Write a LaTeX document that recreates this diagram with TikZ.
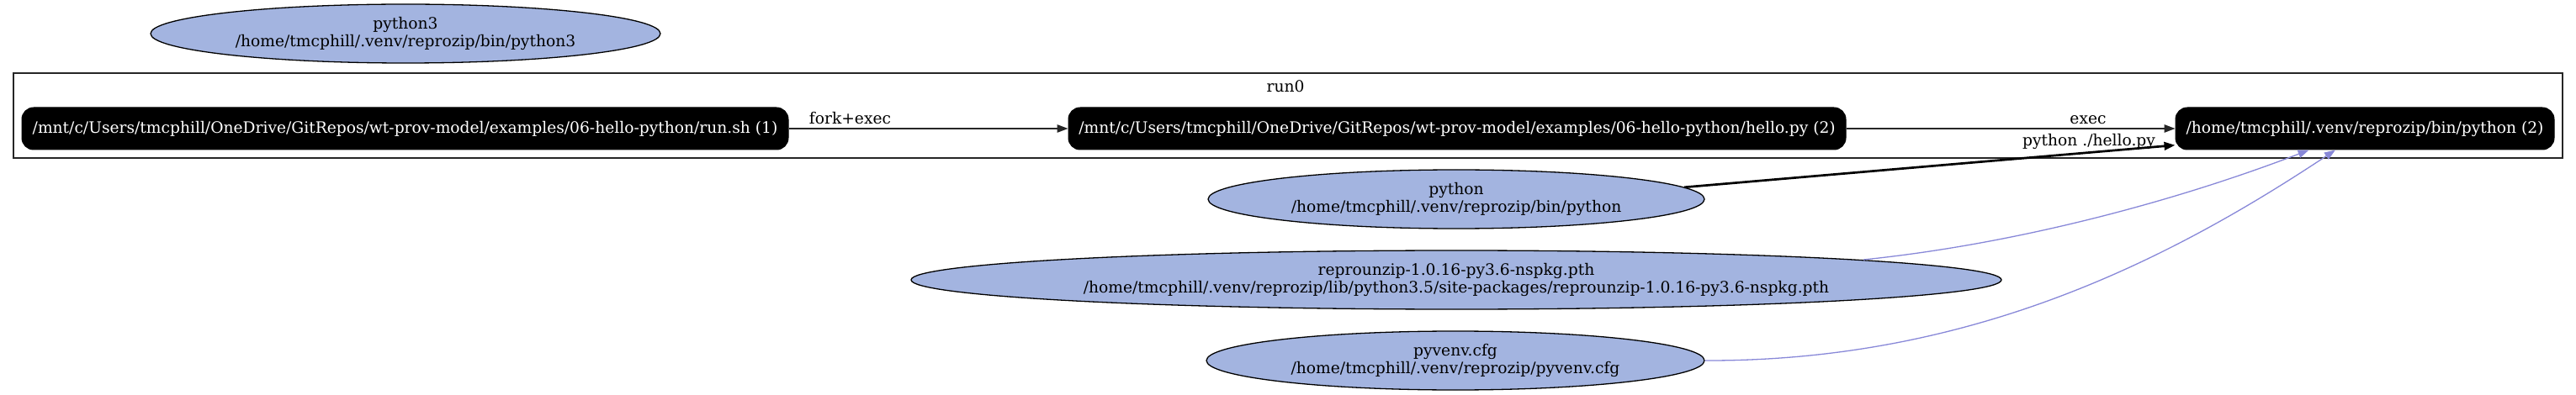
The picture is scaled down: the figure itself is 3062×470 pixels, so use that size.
\documentclass[tikz,border=0pt]{standalone}
\usepackage{fontspec}
\setmainfont{DejaVu Serif}
\usetikzlibrary{arrows.meta,shapes.geometric,calc}
\definecolor{filefill}{RGB}{163,180,224}
\definecolor{lav}{RGB}{136,136,216}
\tikzset{
  every node/.style={font=\fontsize{18.67}{21.5}\selectfont},
  procnode/.style={draw=black, fill=black, text=white, rounded corners=14pt,
    minimum height=50pt, inner sep=0pt, line width=1pt},
  filenode/.style={ellipse, draw=black, fill=filefill, text=black, align=center,
    minimum height=70pt, inner sep=0pt, line width=1.3pt},
  lbl/.style={anchor=base, inner sep=0pt},
  flow/.style={draw=black!85, line width=1.3pt, -{Triangle[length=13pt,width=9.5pt]}},
  bigflow/.style={draw=black, line width=2.7pt, -{Triangle[length=13pt,width=9.5pt]}},
  readflow/.style={draw=lav, line width=1.3pt, -{Triangle[length=13pt,width=9.5pt,fill=lav]}},
}
\begin{document}
\begin{tikzpicture}[x=1pt,y=-1pt]
\useasboundingbox (0,0) rectangle (3062,470);
% cluster
\draw[line width=1.3pt, draw=black!85] (16,87) rectangle (3046,188);
\node[lbl] (run0) at (1528,110) {run0};
% process nodes
\node[procnode, minimum width=911pt] (rs) at (481.5,153) {/mnt/c/Users/tmcphill/OneDrive/GitRepos/wt-prov-model/examples/06-hello-python/run.sh (1)};
\node[procnode, minimum width=924pt] (hp) at (1732,153) {/mnt/c/Users/tmcphill/OneDrive/GitRepos/wt-prov-model/examples/06-hello-python/hello.py (2)};
\node[procnode, minimum width=450pt] (p2) at (2811,153) {/home/tmcphill/.venv/reprozip/bin/python (2)};
% file nodes
\node[filenode, minimum width=606pt] (p3) at (482,40) {python3\\/home/tmcphill/.venv/reprozip/bin/python3};
\node[filenode, minimum width=590pt] (py) at (1731,237) {python\\/home/tmcphill/.venv/reprozip/bin/python};
\node[filenode, minimum width=1296pt] (rz) at (1731,333) {reprounzip-1.0.16-py3.6-nspkg.pth\\/home/tmcphill/.venv/reprozip/lib/python3.5/site-packages/reprounzip-1.0.16-py3.6-nspkg.pth};
\node[filenode, minimum width=592pt] (pv) at (1730,429) {pyvenv.cfg\\/home/tmcphill/.venv/reprozip/pyvenv.cfg};
% edges
\draw[flow] (rs.east) -- (hp.west);
\node[lbl] (l1) at (1010.5,148) {fork+exec};
\draw[flow] (hp.east) -- (p2.west);
\node[lbl] (l2) at (2482,148) {exec};
\draw[bigflow] (py.3.4) -- (p2.185.9);
\node[lbl] (l3) at (2483,174) {python ./hello.py};
\draw[readflow] ($(rz.center)+(484,-24)$) .. controls (2400,290) and (2590,238) .. (p2.201.3);
\draw[readflow] (pv.0) .. controls (2340,430) and (2575,312) .. (p2.216.3);
\end{tikzpicture}
\end{document}
